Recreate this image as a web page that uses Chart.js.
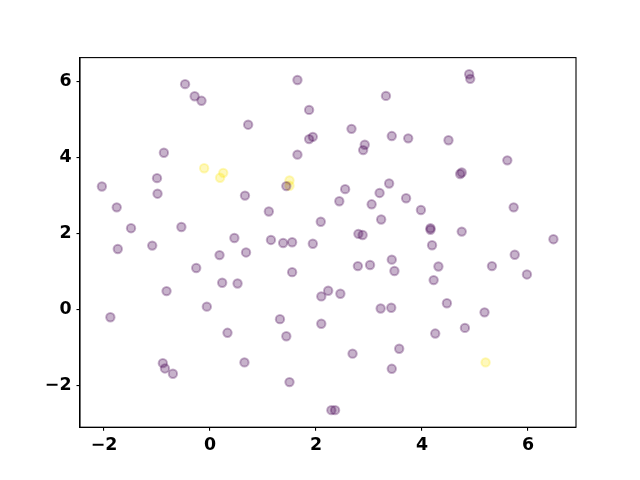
<!DOCTYPE html>
<html>
<head>
<meta charset="utf-8">
<script src="https://cdn.jsdelivr.net/npm/chart.js@4"></script>
<style>
  html, body { margin: 0; padding: 0; background: #fff; }
  canvas { display: block; }
</style>
</head>
<body>
<canvas id="chart" width="640" height="480"></canvas>
<script>
// values
const purpleX = [-0.47, -0.29, -0.16, 0.72, -0.87, -2.04, -1.0, -0.99, 0.66, -1.76,
  -1.49, -0.54, 0.46, -1.74, -1.09, 0.18, 0.68, -0.26, 0.23, 0.52,
  -0.82, -0.06, -1.88, 0.33, -0.89, -0.85, -0.7, 0.65, 1.65, 3.32,
  1.87, 2.67, 1.87, 1.94, 3.43, 3.74, 2.92, 2.89, 1.65, 1.44,
  2.55, 3.38, 3.2, 2.44, 3.05, 3.7, 1.11, 2.09, 3.23, 2.8,
  2.88, 1.15, 1.38, 1.55, 1.94, 2.79, 3.02, 3.43, 3.48, 1.55,
  2.23, 2.1, 2.46, 3.22, 3.42, 1.32, 2.1, 1.44, 3.57, 2.69,
  3.43, 1.5, 2.29, 2.36, 4.89, 4.91, 4.5, 5.61, 4.75, 4.72,
  3.98, 5.73, 4.16, 4.16, 4.75, 6.48, 4.19, 5.75, 4.31, 5.32,
  5.98, 4.22, 4.47, 5.18, 4.81, 4.25];
const purpleY = [5.94, 5.62, 5.5, 4.87, 4.13, 3.24, 3.46, 3.05, 3.0, 2.69,
  2.14, 2.17, 1.88, 1.59, 1.68, 1.43, 1.5, 1.09, 0.7, 0.68,
  0.48, 0.07, -0.21, -0.62, -1.42, -1.56, -1.7, -1.4, 6.05, 5.63,
  5.26, 4.76, 4.49, 4.55, 4.57, 4.51, 4.34, 4.2, 4.08, 3.25,
  3.17, 3.32, 3.07, 2.85, 2.77, 2.93, 2.58, 2.31, 2.37, 1.99,
  1.96, 1.83, 1.75, 1.77, 1.73, 1.14, 1.17, 1.31, 1.01, 0.98,
  0.49, 0.34, 0.41, 0.02, 0.04, -0.26, -0.38, -0.71, -1.04, -1.17,
  -1.57, -1.92, -2.66, -2.66, 6.2, 6.08, 4.46, 3.93, 3.61, 3.57,
  2.62, 2.69, 2.14, 2.1, 2.05, 1.85, 1.69, 1.44, 1.13, 1.14,
  0.92, 0.77, 0.16, -0.08, -0.49, -0.64];
const yellowX = [-0.11, 0.25, 0.19, 1.5, 1.5, 5.2];
const yellowY = [3.72, 3.6, 3.47, 3.4, 3.26, -1.4];
const tickValues = [-2, 0, 2, 4, 6];

const toPoints = (xs, ys) => xs.map((x, i) => ({ x: x, y: ys[i] }));
const tickLabel = v => (v < 0 ? '\u2212' + Math.abs(v) : String(v));

const frame = {
  id: 'frame',
  afterDraw(chart) {
    const a = chart.chartArea, ctx = chart.ctx;
    ctx.save();
    ctx.strokeStyle = '#000';
    ctx.lineWidth = 1.1;
    ctx.strokeRect(a.left, a.top, a.right - a.left, a.bottom - a.top);
    ctx.restore();
  }
};

const axisFont = { family: 'DejaVu Sans, sans-serif', size: 17.4, weight: 'bold' };

new Chart(document.getElementById('chart'), {
  type: 'scatter',
  data: {
    datasets: [
      {
        data: toPoints(purpleX, purpleY),
        backgroundColor: 'rgba(68, 1, 84, 0.3)',
        borderColor: 'rgba(68, 1, 84, 0.3)',
        borderWidth: 2,
        pointRadius: 4.2,
        pointHoverRadius: 4.2
      },
      {
        data: toPoints(yellowX, yellowY),
        backgroundColor: 'rgba(253, 231, 37, 0.3)',
        borderColor: 'rgba(253, 231, 37, 0.3)',
        borderWidth: 2,
        pointRadius: 4.2,
        pointHoverRadius: 4.2
      }
    ]
  },
  options: {
    responsive: false,
    animation: false,
    layout: { padding: { left: 0, top: 57.6, right: 64, bottom: 0 } },
    plugins: { legend: { display: false }, tooltip: { enabled: false } },
    scales: {
      x: {
        type: 'linear',
        min: -2.453,
        max: 6.906,
        afterBuildTicks: s => { s.ticks = tickValues.map(v => ({ value: v })); },
        afterFit: s => { s.height = 52.8; },
        grid: { drawOnChartArea: false, drawTicks: true, tickLength: 3.5, color: '#000', lineWidth: 1.1 },
        border: { display: true, color: '#000', width: 1.1 },
        ticks: { color: '#000', font: axisFont, padding: 4, maxRotation: 0, callback: tickLabel }
      },
      y: {
        type: 'linear',
        min: -3.11,
        max: 6.64,
        afterBuildTicks: s => { s.ticks = tickValues.map(v => ({ value: v })); },
        afterFit: s => { s.width = 80; },
        grid: { drawOnChartArea: false, drawTicks: true, tickLength: 3.5, color: '#000', lineWidth: 1.1 },
        border: { display: true, color: '#000', width: 1.1 },
        ticks: { color: '#000', font: axisFont, padding: 5, callback: tickLabel }
      }
    }
  },
  plugins: [frame]
});
</script>
</body>
</html>
